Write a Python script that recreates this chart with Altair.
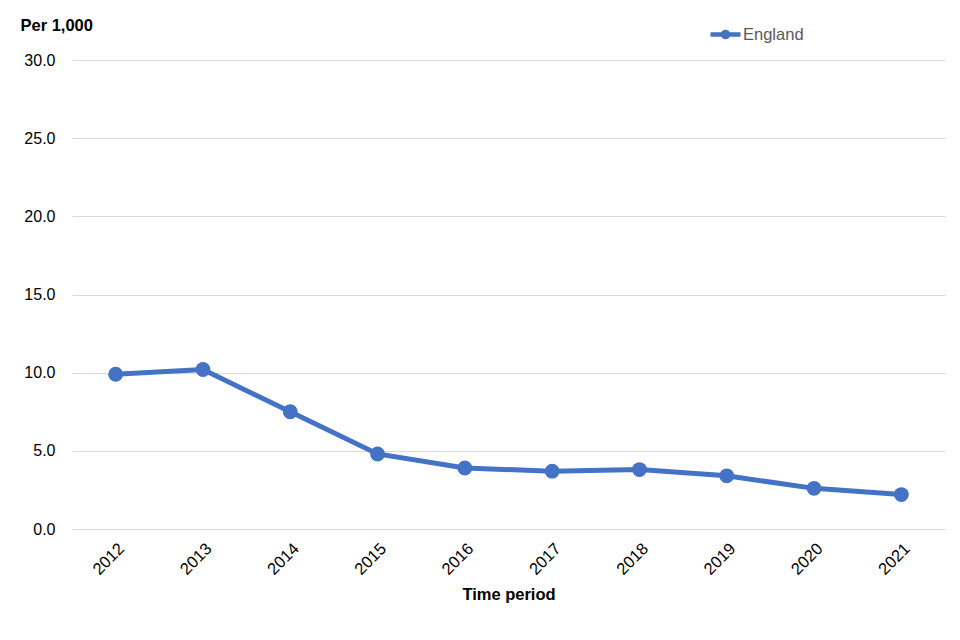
import altair as alt
import pandas as pd

years = ["2012", "2013", "2014", "2015", "2016", "2017", "2018", "2019", "2020", "2021"]
england = [9.9, 10.2, 7.5, 4.8, 3.9, 3.7, 3.8, 3.4, 2.6, 2.2]
series = ["England"] * len(years)

df = pd.DataFrame({"year": years, "value": england, "area": series})

FONT = "Liberation Sans"
BLUE = "#4472C4"

legend_symbol = (
    "M-1,0L1,0 M0.17,0A0.17,0.17 0 1,1 -0.17,0A0.17,0.17 0 1,1 0.17,0"
)

x = alt.X(
    "year:O",
    title="Time period",
    scale=alt.Scale(type="point", padding=0.5),
    axis=alt.Axis(
        labelAngle=-45,
        labelAlign="right",
        labelBaseline="top",
        labelPadding=11,
        labelFontSize=16.5,
        labelColor="#000000",
        ticks=False,
        domain=False,
        grid=False,
        titleFontSize=16.5,
        titleFontWeight="bold",
        titleColor="#000000",
        titlePadding=9,
    ),
)
y = alt.Y(
    "value:Q",
    title="Per 1,000",
    scale=alt.Scale(domain=[0, 30], nice=False),
    axis=alt.Axis(
        values=[0, 5, 10, 15, 20, 25, 30],
        format=".1f",
        labelFontSize=16,
        labelColor="#000000",
        labelPadding=17,
        ticks=False,
        domain=False,
        grid=True,
        gridColor="#d9d9d9",
        gridWidth=1,
        titleAngle=0,
        titleAlign="left",
        titleBaseline="alphabetic",
        titleX=-52,
        titleY=-30,
        titleFontSize=16.5,
        titleFontWeight="bold",
        titleColor="#000000",
    ),
)
color = alt.Color(
    "area:N",
    scale=alt.Scale(range=[BLUE]),
    legend=alt.Legend(
        title=None,
        orient="none",
        legendX=636,
        legendY=-43,
        symbolType=legend_symbol,
        symbolSize=900,
        symbolStrokeWidth=4.5,
        symbolFillColor=BLUE,
        symbolStrokeColor=BLUE,
        labelFontSize=16.5,
        labelColor="#595959",
        labelOffset=0,
    ),
)

base = alt.Chart(df)
line = base.mark_line(strokeWidth=5).encode(x=x, y=y, color=color)
points = base.mark_circle(size=220, opacity=1).encode(x=x, y=y, color=color)

chart = (
    alt.layer(line, points)
    .properties(
        width=873,
        height=469,
        autosize=alt.AutoSizeParams(type="none"),
        padding={"left": 64, "top": 52, "right": 7, "bottom": 100},
    )
    .configure(font=FONT)
    .configure_view(strokeWidth=0, stroke=None)
)

chart.save("out.html", embed_options={"renderer": "svg", "actions": False})
